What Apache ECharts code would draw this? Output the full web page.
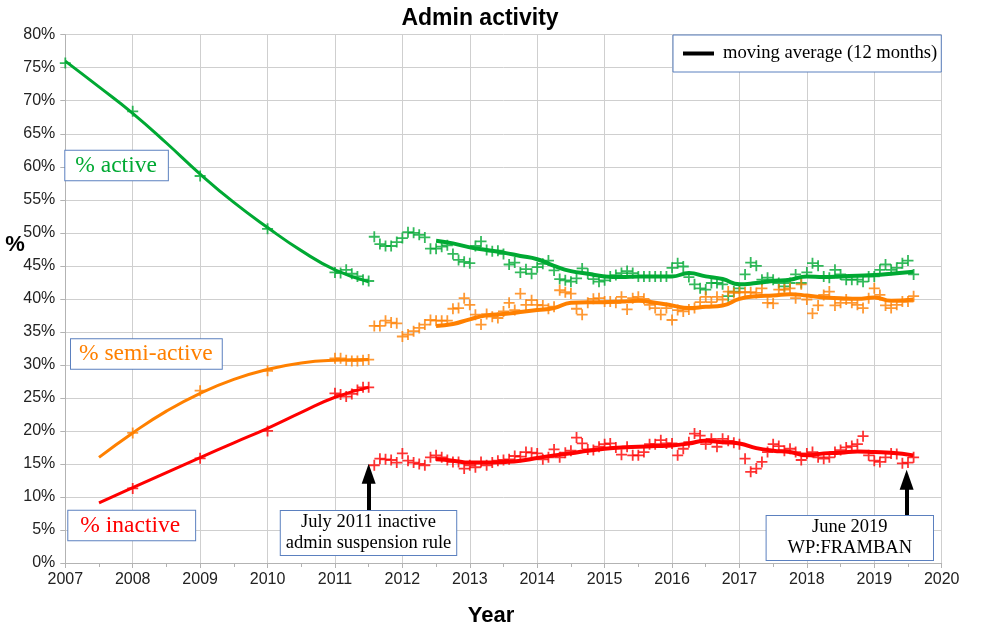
<!DOCTYPE html>
<html>
<head>
<meta charset="utf-8">
<script src="https://cdn.jsdelivr.net/npm/echarts@6/dist/echarts.min.js"></script>
<style>html,body{margin:0;padding:0;background:#fff}#c{width:1000px;height:638px}</style>
</head>
<body>
<div id="c"></div>
<script>
// ---- yearly values 2007-2010 ----
const annualYears = [2007, 2008, 2009, 2010];
const annualActive = [75.7, 68.4, 58.6, 50.6];
const annualSemi = [null, 19.7, 26.1, 29.1];
const annualInactive = [null, 11.3, 15.85, 20.0];

// ---- trend curves 2007-2011.5 ----
const trendYears = [2007, 2007.5, 2008, 2008.5, 2009, 2009.5, 2010, 2010.5, 2011, 2011.5];
const trendActive = [76.0, 72.1, 68.1, 63.6, 58.9, 54.6, 50.8, 47.3, 44.4, 42.6];
const trendSemi = [null, 16.0, 19.7, 23.0, 25.7, 27.8, 29.3, 30.3, 30.7, 30.8];
const trendInactive = [null, 9.1, 11.4, 13.7, 15.95, 18.2, 20.4, 22.8, 25.1, 26.6];

// ---- monthly values, Jan 2011 .. Aug 2019 ----
const monthStartYear = 2011;
const monthlyActive = [
  44.0, 43.9, 44.4, 43.8, 43.4, 42.9, 42.7, 49.4, 48.3, 48.0, 48.0, 48.6,
  49.2, 50.1, 50.0, 49.7, 49.3, 47.6, 47.6, 47.9, 48.1, 46.8, 45.9, 45.6,
  45.4, 48.0, 48.7, 47.4, 47.2, 47.3, 46.8, 45.2, 45.5, 44.0, 44.5, 43.8,
  44.8, 45.3, 45.8, 44.3, 43.0, 42.8, 42.6, 43.1, 44.6, 43.8, 43.0, 42.6,
  42.8, 43.4, 43.6, 43.9, 44.2, 43.9, 43.4, 43.4, 43.4, 43.4, 43.4, 43.4,
  44.7, 45.4, 44.9, 43.3, 42.2, 41.6, 41.4, 42.4, 42.4, 42.2, 40.4, 41.1,
  41.6, 43.7, 45.5, 45.0, 42.9, 43.2, 42.9, 42.4, 41.9, 42.4, 43.7, 42.4,
  44.0, 45.4, 45.0, 43.4, 43.2, 44.4, 43.7, 42.9, 42.9, 42.9, 42.6, 43.4,
  43.4, 44.4, 45.2, 44.4, 44.7, 45.4, 45.8, 43.7
];
const monthlySemi = [
  31.0, 31.0, 30.7, 30.6, 30.6, 30.7, 30.8, 35.9, 35.9, 36.7, 36.4, 36.3,
  34.3, 34.6, 35.1, 35.6, 36.1, 36.8, 36.7, 36.7, 36.7, 38.5, 38.6, 40.1,
  39.1, 37.6, 36.1, 37.7, 37.3, 37.1, 38.1, 39.4, 38.3, 40.8, 39.1, 39.8,
  39.1, 39.0, 38.5, 38.8, 41.3, 41.0, 40.8, 38.5, 37.6, 39.4, 40.0, 40.1,
  39.6, 39.6, 39.4, 40.3, 38.4, 40.1, 40.3, 40.0, 39.1, 38.6, 37.6, 38.6,
  36.8, 38.3, 38.1, 38.4, 38.6, 39.5, 40.3, 39.5, 40.3, 39.9, 41.1, 40.9,
  41.0, 41.0, 41.0, 40.9, 41.6, 39.4, 39.3, 41.4, 41.4, 41.6, 40.1, 42.2,
  39.9, 37.8, 39.0, 40.6, 41.1, 39.0, 39.4, 39.9, 39.4, 39.1, 38.6, 40.1,
  41.6, 40.6, 39.0, 38.6, 39.1, 39.6, 39.6, 40.4
];
const monthlyInactive = [
  25.7, 25.5, 25.2, 25.6, 26.2, 26.6, 26.6, 14.8, 15.8, 15.7, 15.6, 15.2,
  16.6, 15.5, 15.2, 15.0, 14.8, 16.0, 16.3, 16.0, 15.6, 15.3, 15.3, 14.3,
  14.8, 14.5, 15.3, 14.8, 15.2, 15.5, 15.6, 15.7, 16.2, 16.1, 16.8, 16.7,
  16.6, 15.7, 16.0, 17.2, 16.0, 16.7, 17.0, 19.0, 18.1, 17.2, 17.1, 17.6,
  18.0, 18.1, 17.5, 16.4, 17.6, 16.3, 16.3, 16.8, 18.0, 18.0, 18.6, 18.1,
  18.1, 16.3, 17.3, 18.3, 19.6, 19.3, 18.0, 18.8, 17.6, 18.8, 18.5, 18.2,
  18.0, 15.8, 13.8, 14.3, 15.3, 16.8, 18.0, 17.7, 17.0, 17.3, 16.8, 15.6,
  16.6, 16.8, 16.0, 15.8, 16.0, 16.8, 17.1, 17.5, 17.7, 18.0, 19.2, 16.3,
  15.5, 15.3, 16.0, 16.6, 16.5, 15.1, 15.2, 16.0
];

// ---- 12-month moving averages ----
const maYears = [2012.5, 2012.75, 2013, 2013.25, 2013.5, 2013.75, 2014, 2014.25, 2014.5, 2014.75,
  2015, 2015.25, 2015.5, 2015.75, 2016, 2016.25, 2016.5, 2016.75, 2017, 2017.25,
  2017.5, 2017.75, 2018, 2018.25, 2018.5, 2018.75, 2019, 2019.25, 2019.58];
const maActive = [48.8, 48.4, 47.8, 47.4, 47.0, 46.5, 46.0, 45.0, 44.2, 43.8,
  43.4, 43.3, 43.4, 43.4, 43.4, 43.9, 43.4, 43.0, 42.2, 42.4,
  42.7, 42.9, 43.4, 43.3, 43.4, 43.5, 43.6, 43.8, 44.1];
const maSemi = [35.9, 36.2, 36.9, 37.5, 37.7, 38.0, 38.3, 38.6, 39.4, 39.5,
  39.5, 39.6, 39.7, 39.4, 39.0, 38.6, 38.8, 39.0, 40.0, 40.4,
  40.5, 40.7, 40.5, 40.2, 40.1, 40.0, 40.2, 39.7, 39.9];
const maInactive = [15.7, 15.5, 15.2, 15.2, 15.3, 15.5, 15.9, 16.3, 16.6, 17.0,
  17.3, 17.5, 17.6, 17.7, 17.8, 18.1, 18.5, 18.3, 18.1, 17.4,
  17.0, 16.8, 16.3, 16.6, 16.7, 16.9, 16.8, 16.7, 16.3];

// ---- axis ticks ----
const xMin = 2007, xMax = 2020, xStep = 1;
const yMin = 0, yMax = 80, yStep = 5;

// ---- annotations (event markers) ----
const events = [
  { year: 2011.5, from: 7.85, to: 13.5 },
  { year: 2019.48, from: 7.1, to: 12.6 }
];

const MA_NAME = 'moving average (12 months)';
const GREEN = '#00a933', ORANGE = '#ff8000', RED = '#ff0000';
const CROSS = 'path://M4.6,0H6.4V4.6H11V6.4H6.4V11H4.6V6.4H0V4.6H4.6Z';

function pairs(xs, ys) { return xs.map((x, i) => [x, ys[i]]).filter(p => p[1] != null); }
function monthly(vals) { return vals.map((v, i) => [monthStartYear + i / 12, v]); }

function scatter(name, data, color) {
  return { type: 'scatter', name: name, data: data, symbol: CROSS, symbolSize: 11,
    itemStyle: { color: color }, z: 3, silent: true };
}
function line(name, data, color, width, z) {
  return { type: 'line', name: name, data: data, smooth: true, showSymbol: false,
    lineStyle: { color: color, width: width }, itemStyle: { color: color }, z: z, silent: true };
}

const boxBorder = '#5b80bf';
const serif = '"Liberation Serif", "DejaVu Serif", serif';
const sans = '"Liberation Sans", Arial, sans-serif';

const option = {
  animation: false,
  backgroundColor: '#fff',
  title: {
    text: 'Admin activity', left: 480, top: 7, textAlign: 'center', padding: 0,
    textStyle: { fontFamily: sans, fontSize: 23, fontWeight: 'bold', color: '#000' }
  },
  legend: {
    left: 673, top: 35, padding: [9, 4, 9, 10], orient: 'horizontal',
    borderColor: boxBorder, borderWidth: 1, backgroundColor: '#fff',
    icon: 'rect', itemWidth: 31, itemHeight: 4,
    data: [{ name: MA_NAME, itemStyle: { color: '#000' } }],
    textStyle: { fontFamily: serif, fontSize: 18.6, color: '#000', padding: [0, 0, 0, 4] },
    selectedMode: false
  },
  grid: { left: 65.3, right: 58.3, top: 34.7, bottom: 75 },
  xAxis: {
    type: 'value', min: xMin, max: xMax, interval: xStep,
    name: 'Year', nameLocation: 'middle', nameGap: 42,
    nameTextStyle: { fontFamily: sans, fontSize: 22, fontWeight: 'bold', color: '#000', padding: [0, 25, 0, 0] },
    axisLine: { show: true, lineStyle: { color: '#b3b3b3', width: 1 } },
    axisTick: { show: true, length: 5, lineStyle: { color: '#b3b3b3' } },
    minorTick: { show: true, splitNumber: 2, length: 4, lineStyle: { color: '#b3b3b3' } },
    axisLabel: { formatter: v => String(v), fontFamily: sans, fontSize: 16, color: '#222', margin: 9 },
    splitLine: { show: true, lineStyle: { color: '#cfcfcf', width: 1 } }
  },
  yAxis: {
    type: 'value', min: yMin, max: yMax, interval: yStep,
    axisLine: { show: true, lineStyle: { color: '#b3b3b3', width: 1 } },
    axisTick: { show: true, length: 5, lineStyle: { color: '#b3b3b3' } },
    axisLabel: { formatter: '{value}%', fontFamily: sans, fontSize: 16, color: '#222', margin: 10 },
    splitLine: { show: true, lineStyle: { color: '#cfcfcf', width: 1 } }
  },
  series: [
    scatter('% active', pairs(annualYears, annualActive).concat(monthly(monthlyActive)), GREEN),
    scatter('% semi-active', pairs(annualYears, annualSemi).concat(monthly(monthlySemi)), ORANGE),
    scatter('% inactive', pairs(annualYears, annualInactive).concat(monthly(monthlyInactive)), RED),
    line('trend active', pairs(trendYears, trendActive), GREEN, 3, 4),
    line('trend semi-active', pairs(trendYears, trendSemi), ORANGE, 3, 4),
    line('trend inactive', pairs(trendYears, trendInactive), RED, 3, 4),
    line(MA_NAME, pairs(maYears, maActive), GREEN, 4, 5),
    line(MA_NAME, pairs(maYears, maSemi), ORANGE, 4, 5),
    line(MA_NAME, pairs(maYears, maInactive), RED, 4, 5),
    {
      type: 'line', name: 'events', data: [], silent: true, z: 6,
      markLine: {
        silent: true, animation: false,
        symbol: ['none', 'triangle'], symbolSize: [14, 20],
        label: { show: false },
        lineStyle: { color: '#000', width: 4, type: 'solid' },
        emphasis: { disabled: true },
        data: events.map(e => [{ coord: [e.year, e.from] }, { coord: [e.year, e.to] }])
      }
    }
  ],
  graphic: [
    { type: 'text', z: 100, x: 15, y: 245,
      style: { text: '%', font: 'bold 22px ' + sans, fill: '#000', align: 'center', verticalAlign: 'middle' } },
    { type: 'text', z: 100, x: 65.3, y: 150.7,
      style: { text: '% active', font: '23.5px ' + serif, fill: GREEN, backgroundColor: '#fff',
        borderColor: boxBorder, borderWidth: 1, padding: [3, 11, 3, 10], lineHeight: 23.5,
        align: 'left', verticalAlign: 'top' } },
    { type: 'text', z: 100, x: 71, y: 339.3,
      style: { text: '% semi-active', font: '23.5px ' + serif, fill: ORANGE, backgroundColor: '#fff',
        borderColor: boxBorder, borderWidth: 1, padding: [3, 9, 3, 8], lineHeight: 23.5,
        align: 'left', verticalAlign: 'top' } },
    { type: 'text', z: 100, x: 68.3, y: 510.7,
      style: { text: '% inactive', font: '23.5px ' + serif, fill: RED, backgroundColor: '#fff',
        borderColor: boxBorder, borderWidth: 1, padding: [3, 15, 3, 12], lineHeight: 23.5,
        align: 'left', verticalAlign: 'top' } },
    { type: 'text', z: 100, x: 368.5, y: 511,
      style: { text: 'July 2011 inactive\nadmin suspension rule', font: '18.5px ' + serif, fill: '#000',
        align: 'center', verticalAlign: 'top', backgroundColor: '#fff', borderColor: boxBorder, borderWidth: 1,
        padding: [1, 5, 1, 5], lineHeight: 21 } },
    { type: 'text', z: 100, x: 849.8, y: 516,
      style: { text: 'June 2019\nWP:FRAMBAN', font: '18.5px ' + serif, fill: '#000',
        align: 'center', verticalAlign: 'top', backgroundColor: '#fff', borderColor: boxBorder, borderWidth: 1,
        padding: [1, 21, 1, 21], lineHeight: 21 } }
  ]
};

const chart = echarts.init(document.getElementById('c'), null, { renderer: 'canvas' });
chart.setOption(option);
</script>
</body>
</html>
